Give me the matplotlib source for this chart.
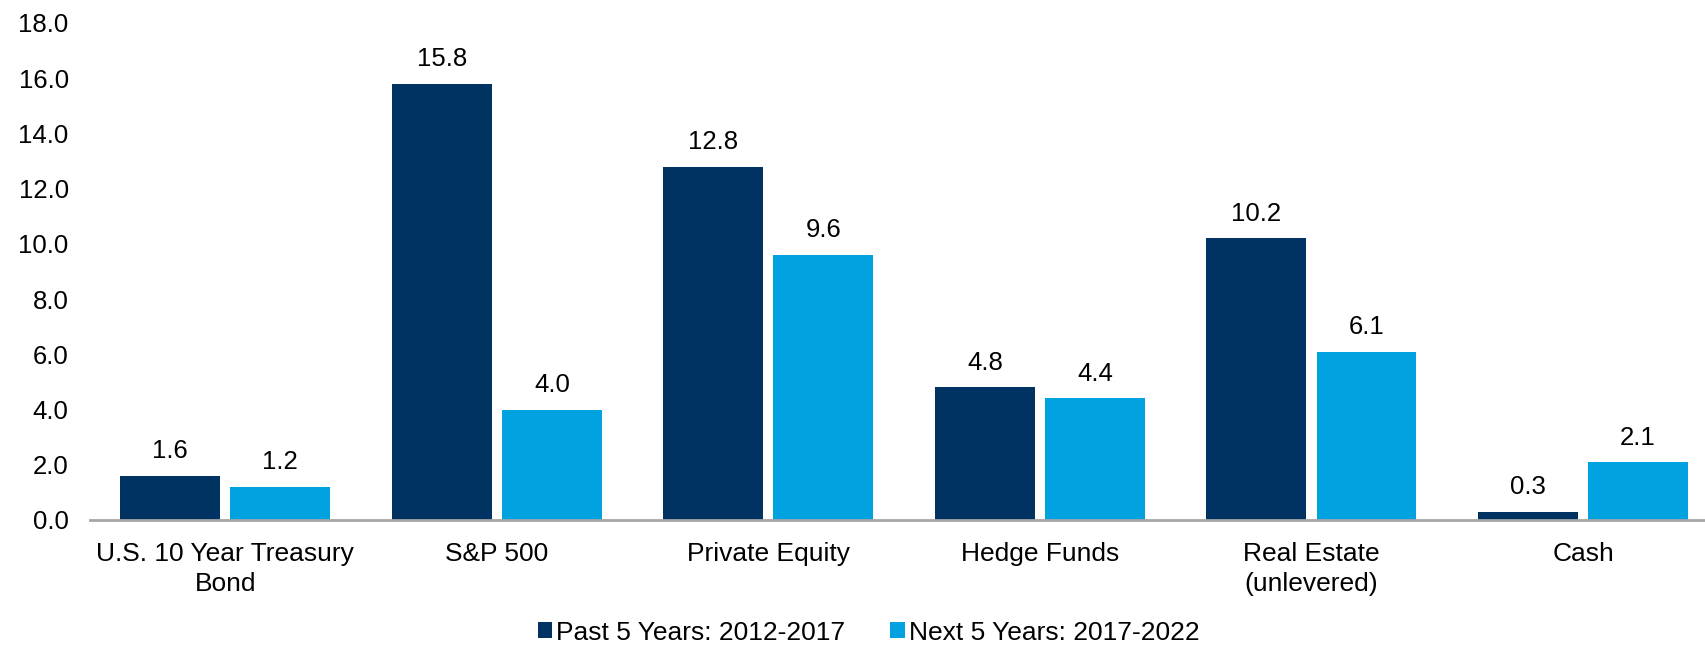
import matplotlib
matplotlib.use('Agg')
import matplotlib.pyplot as plt
import numpy as np

# Data
categories = ['U.S. 10 Year Treasury\nBond', 'S&P 500', 'Private Equity',
              'Hedge Funds', 'Real Estate\n(unlevered)', 'Cash']
past = [1.6, 15.8, 12.8, 4.8, 10.2, 0.3]
future = [1.2, 4.0, 9.6, 4.4, 6.1, 2.1]
series_names = ['Past 5 Years: 2012-2017', 'Next 5 Years: 2017-2022']
yticks = [0, 2, 4, 6, 8, 10, 12, 14, 16, 18]

dark = '#003262'
light = '#00A3E0'

plt.rcParams['font.family'] = ['Liberation Sans', 'DejaVu Sans']

fig = plt.figure(figsize=(17.06, 6.49), dpi=100)
ax = fig.add_axes([0.0525, 0.1988, 0.955, 0.7658])

x = np.arange(len(categories))
w = 0.368
off = 0.2027
bars1 = ax.bar(x - off, past, w, color=dark, label=series_names[0])
bars2 = ax.bar(x + off, future, w, color=light, label=series_names[1])

# Value labels
for bars in (bars1, bars2):
    for bar in bars:
        ax.text(bar.get_x() + bar.get_width() / 2, bar.get_height() + 0.45,
                f'{bar.get_height():.1f}', ha='center', va='bottom', fontsize=18.5)

ax.set_xlim(-0.5, len(categories) - 0.5)
ax.set_ylim(0, 18)
ax.set_yticks(yticks)
ax.set_yticklabels([f'{v:.1f}' for v in yticks])
ax.set_xticks(x)
ax.set_xticklabels(categories, fontsize=19, linespacing=1.3)

for s in ['top', 'right', 'left']:
    ax.spines[s].set_visible(False)
ax.spines['bottom'].set_color('#A6A6A6')
ax.spines['bottom'].set_linewidth(2)
ax.tick_params(axis='y', length=0, labelsize=18.5, pad=15)
ax.tick_params(axis='x', length=0, pad=16)

fig.legend(loc='center', bbox_to_anchor=(0.509, 0.025), ncol=2, frameon=False,
           fontsize=19, handlelength=0.55, handleheight=0.55, handletextpad=0.15,
           columnspacing=1.7)

fig.savefig('out.png', dpi=100)
